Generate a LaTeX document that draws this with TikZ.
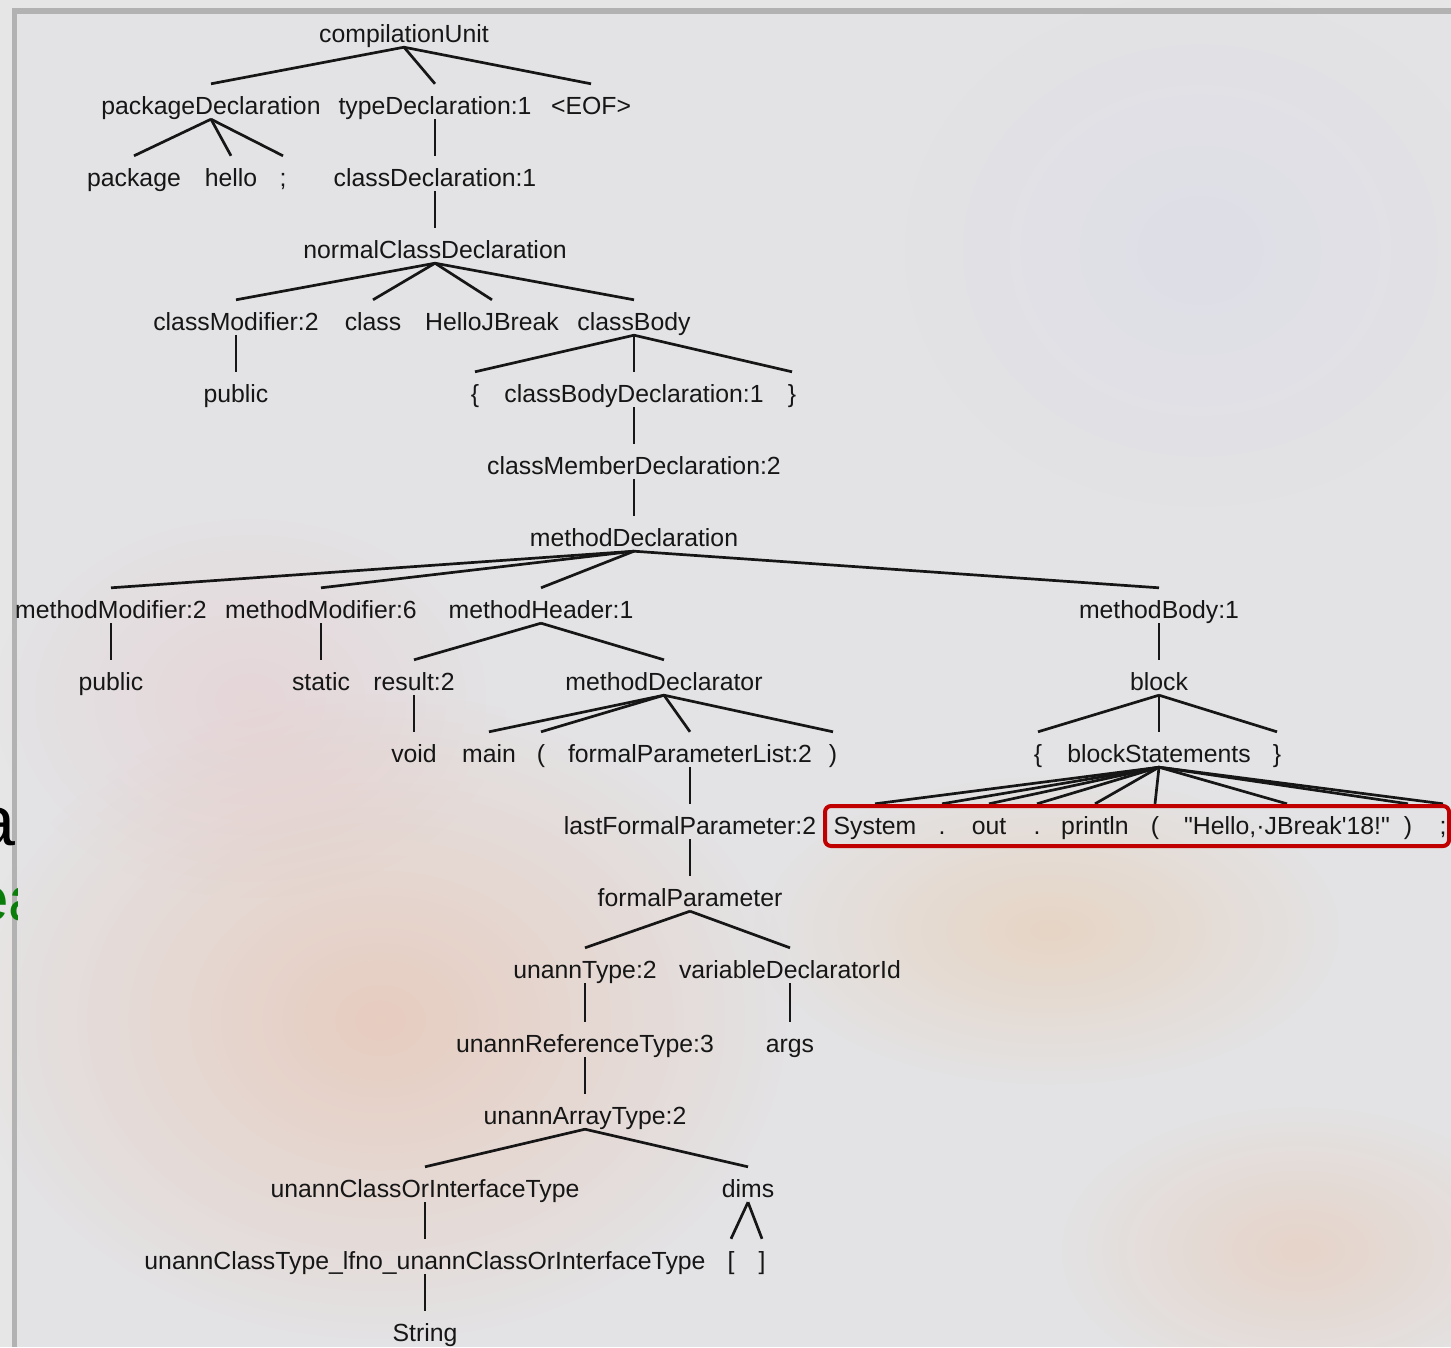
\documentclass[tikz,border=0pt]{standalone}
\usepackage{fontspec}
\newfontfamily\treefont{Liberation Sans}
\usetikzlibrary{fadings}
\definecolor{bgc}{HTML}{E3E3E5}
\definecolor{outerc}{HTML}{E6E6E6}
\definecolor{barc}{HTML}{B2B2B2}
\definecolor{txtc}{HTML}{161616}
\definecolor{boxred}{HTML}{C00000}
\definecolor{slgreen}{HTML}{0B7D0B}
\tikzfading[name=fuzzy, inner color=transparent!0, outer color=transparent!100]
\tikzset{
  tn/.style={anchor=base, inner sep=0pt, text height=30pt, text depth=5pt,
    font=\treefont\fontsize{24.8}{28}\selectfont, text=txtc},
  edge/.style={draw=txtc, line width=2.7pt},
  blob/.style={path fading=fuzzy, opacity=#1},
}
\begin{document}
\begin{tikzpicture}[x=1pt,y=-1pt]
\useasboundingbox (0,0) rectangle (1451,1347);
% background
\fill[outerc] (0,0) rectangle (1451,1347);
\fill[bgc] (17,14) rectangle (1451,1347);
% faint background image tints
\fill[orange!70!red, blob=0.16] (380,1020) ellipse [x radius=420, y radius=330];
\fill[orange, blob=0.14] (1050,930) ellipse [x radius=300, y radius=160];
\fill[red!60, blob=0.10] (250,700) ellipse [x radius=260, y radius=200];
\fill[blue!30, blob=0.10] (1200,250) ellipse [x radius=300, y radius=260];
\fill[orange!80!red, blob=0.12] (1300,1250) ellipse [x radius=250, y radius=150];
% window frame
\fill[barc] (12,8) rectangle (1451,14);
\fill[barc] (12,8) rectangle (17,1347);
% slide text fragments behind window edge
\begin{scope}
  \clip (0,0) rectangle (17,1347);
  \node[anchor=base west, inner sep=0pt, font=\treefont\fontsize{70}{70}\selectfont, text=black] (fraga) at (-24,845) {a};
  \node[anchor=base west, inner sep=0pt, font=\treefont\fontsize{62}{62}\selectfont, text=slgreen] (fragea) at (-26,920) {ea};
\end{scope}

% level 0
\node[tn] (cu) at (404,42) {compilationUnit};
% level 1
\node[tn] (pd) at (211,114) {packageDeclaration};
\node[tn] (td) at (435,114) {typeDeclaration:1};
\node[tn] (eof) at (591,114) {<EOF>};
% level 2
\node[tn] (pkg) at (134,186) {package};
\node[tn] (hello) at (231,186) {hello};
\node[tn] (semia) at (283,186) {;};
\node[tn] (cd) at (435,186) {classDeclaration:1};
% level 3
\node[tn] (ncd) at (435,258) {normalClassDeclaration};
% level 4
\node[tn] (cm) at (236,330) {classModifier:2};
\node[tn] (cls) at (373,330) {class};
\node[tn] (hjb) at (492,330) {HelloJBreak};
\node[tn] (cb) at (634,330) {classBody};
% level 5
\node[tn] (puba) at (236,402) {public};
\node[tn] (lba) at (475,402) {\{};
\node[tn] (cbd) at (634,402) {classBodyDeclaration:1};
\node[tn] (rba) at (792,402) {\}};
% level 6
\node[tn] (cmd) at (634,474) {classMemberDeclaration:2};
% level 7
\node[tn] (md) at (634,546) {methodDeclaration};
% level 8
\node[tn] (mma) at (111,618) {methodModifier:2};
\node[tn] (mmb) at (321,618) {methodModifier:6};
\node[tn] (mh) at (541,618) {methodHeader:1};
\node[tn] (mb) at (1159,618) {methodBody:1};
% level 9
\node[tn] (pubb) at (111,690) {public};
\node[tn] (stat) at (321,690) {static};
\node[tn] (res) at (414,690) {result:2};
\node[tn] (mdecl) at (664,690) {methodDeclarator};
\node[tn] (blk) at (1159,690) {block};
% level 10
\node[tn] (void) at (414,762) {void};
\node[tn] (main) at (489,762) {main};
\node[tn] (lpa) at (541,762) {(};
\node[tn] (fpl) at (690,762) {formalParameterList:2};
\node[tn] (rpa) at (833,762) {)};
\node[tn] (lbb) at (1038,762) {\{};
\node[tn] (bs) at (1159,762) {blockStatements};
\node[tn] (rbb) at (1277,762) {\}};
% level 11
\node[tn] (lfp) at (690,834) {lastFormalParameter:2};
\node[tn] (sys) at (875,834) {System};
\node[tn] (dota) at (942,834) {.};
\node[tn] (out) at (989,834) {out};
\node[tn] (dotb) at (1037,834) {.};
\node[tn] (prn) at (1095,834) {println};
\node[tn] (lpb) at (1155,834) {(};
\node[tn] (strl) at (1287,834) {"Hello,·JBreak'18!"};
\node[tn] (rpb) at (1408,834) {)};
\node[tn] (semib) at (1443,834) {;};
% level 12
\node[tn] (fp) at (690,906) {formalParameter};
% level 13
\node[tn] (ut) at (585,978) {unannType:2};
\node[tn] (vdi) at (790,978) {variableDeclaratorId};
% level 14
\node[tn] (urt) at (585,1052) {unannReferenceType:3};
\node[tn] (args) at (790,1052) {args};
% level 15
\node[tn] (uat) at (585,1124) {unannArrayType:2};
% level 16
\node[tn] (ucoit) at (425,1197) {unannClassOrInterfaceType};
\node[tn] (dims) at (748,1197) {dims};
% level 17
\node[tn] (uctl) at (425,1269) {unannClassType\_lfno\_unannClassOrInterfaceType};
\node[tn] (lbr) at (731,1269) {[};
\node[tn] (rbr) at (762,1269) {]};
% level 18
\node[tn] (strg) at (425,1341) {String};

% edges
\foreach \p/\c in {cu/pd, cu/td, cu/eof, pd/pkg, pd/hello, pd/semia, td/cd, cd/ncd,
  ncd/cm, ncd/cls, ncd/hjb, ncd/cb, cm/puba, cb/lba, cb/cbd, cb/rba, cbd/cmd, cmd/md,
  md/mma, md/mmb, md/mh, md/mb, mma/pubb, mmb/stat, mh/res, mh/mdecl, res/void,
  mdecl/main, mdecl/lpa, mdecl/fpl, mdecl/rpa, fpl/lfp, mb/blk, blk/lbb, blk/bs, blk/rbb,
  bs/sys, bs/dota, bs/out, bs/dotb, bs/prn, bs/lpb, bs/strl, bs/rpb, bs/semib,
  lfp/fp, fp/ut, fp/vdi, ut/urt, vdi/args, urt/uat, uat/ucoit, uat/dims,
  ucoit/uctl, dims/lbr, dims/rbr, uctl/strg}
  \draw[edge] (\p.south) -- (\c.north);

% highlight box
\draw[boxred, line width=4pt, rounded corners=6pt] (825,806) rectangle (1449,846);
\end{tikzpicture}
\end{document}
